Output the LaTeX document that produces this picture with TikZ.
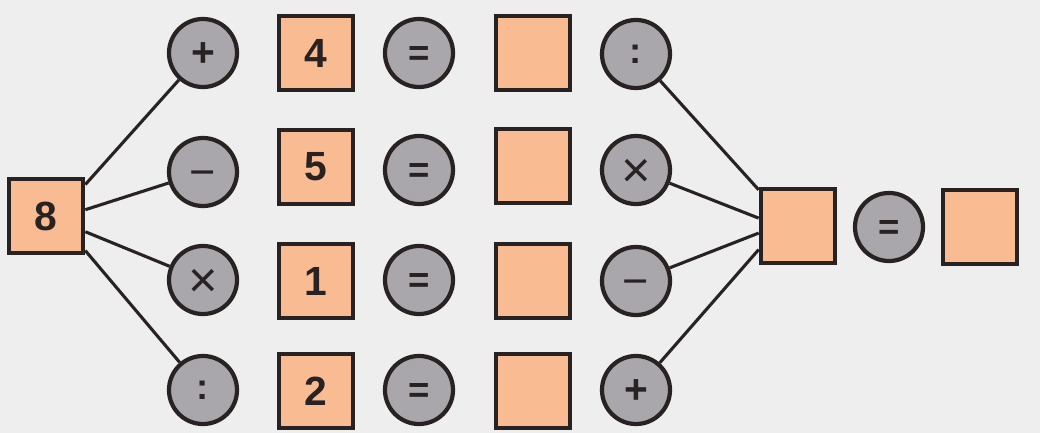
\documentclass[tikz,border=0pt]{standalone}
\usepackage{fontspec}
\setmainfont{Liberation Sans}
\usetikzlibrary{calc,backgrounds}
\definecolor{bg}{RGB}{238,238,238}
\definecolor{peach}{RGB}{249,188,146}
\definecolor{opgray}{RGB}{170,167,172}
\definecolor{ink}{RGB}{40,34,34}
\newcommand{\axsym}[1]{\raisebox{-0.34em}[0pt][0pt]{#1}}
\newcommand{\opminus}{{\fontsize{32}{32}\selectfont\mdseries\axsym{−}}}
\newcommand{\optimes}{{\fontsize{36}{36}\selectfont\mdseries\axsym{×}}}
\newcommand{\opplus}{{\fontsize{29}{29}\selectfont\axsym{+}}}
\newcommand{\opeq}{{\fontsize{26}{26}\selectfont\axsym{=}}}
\begin{document}
\begin{tikzpicture}[x=0.025cm,y=-0.025cm,
  sq/.style={draw=ink,line width=3pt,fill=peach,minimum size=1.86cm,inner sep=0pt,
    font=\fontsize{29}{30}\selectfont\bfseries,text=ink},
  op/.style={circle,draw=ink,line width=3pt,fill=opgray,minimum size=1.7cm,inner sep=0pt,
    font=\fontsize{26}{26}\selectfont\bfseries,text=ink},
  wire/.style={draw=ink,line width=2.2pt}]
\useasboundingbox (0,0) rectangle (1040,433);
% left
\node[sq] (eight) at (46,216) {8};
\node[op] (p1) at (203,53) {\opplus};
\node[op] (p2) at (203,172) {\opminus};
\node[op] (p3) at (203,280) {\optimes};
\node[op] (p4) at (203,390) {:};
\node[sq] (n1) at (316,53) {4};
\node[sq] (n2) at (316,167) {5};
\node[sq] (n3) at (316,281) {1};
\node[sq] (n4) at (316,391) {2};
\node[op] (e1) at (419,53) {\opeq};
\node[op] (e2) at (419,170) {\opeq};
\node[op] (e3) at (419,280) {\opeq};
\node[op] (e4) at (419,390) {\opeq};
\node[sq] (r1) at (533,53) {};
\node[sq] (r2) at (533,166) {};
\node[sq] (r3) at (533,281) {};
\node[sq] (r4) at (533,391) {};
\node[op] (q1) at (636,54) {:};
\node[op] (q2) at (636,170) {\optimes};
\node[op] (q3) at (636,281) {\opminus};
\node[op] (q4) at (636,390) {\opplus};
\node[sq] (big) at (798,226) {};
\node[op] (fe) at (889,227) {\opeq};
\node[sq] (res) at (980,227) {};
\coordinate (a1) at ($(eight.north east)!0.10!(eight.south east)$);
\coordinate (a2) at ($(eight.north east)!0.42!(eight.south east)$);
\coordinate (a3) at ($(eight.north east)!0.70!(eight.south east)$);
\coordinate (a4) at ($(eight.north east)!0.94!(eight.south east)$);
\coordinate (b1) at ($(big.north west)!0.04!(big.south west)$);
\coordinate (b2) at ($(big.north west)!0.40!(big.south west)$);
\coordinate (b3) at ($(big.north west)!0.59!(big.south west)$);
\coordinate (b4) at ($(big.north west)!0.80!(big.south west)$);
\begin{scope}[on background layer]
\fill[bg] (0,0) rectangle (1040,433);
\path[wire] (a1) -- (p1);
\path[wire] (a2) -- (p2);
\path[wire] (a3) -- (p3);
\path[wire] (a4) -- (p4);
\path[wire] (q1) -- (b1);
\path[wire] (q2) -- (b2);
\path[wire] (q3) -- (b3);
\path[wire] (q4) -- (b4);
\end{scope}
\end{tikzpicture}
\end{document}
